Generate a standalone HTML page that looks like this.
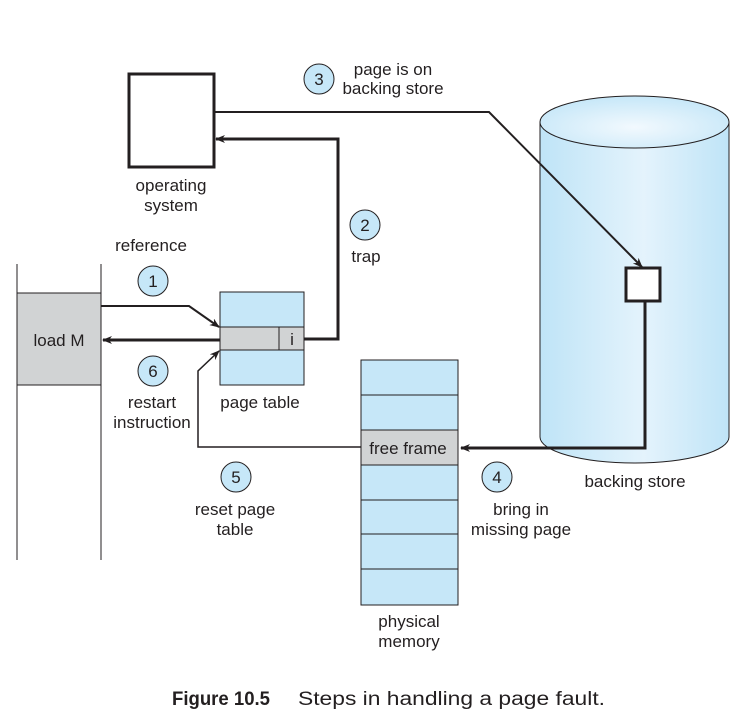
<!DOCTYPE html>
<html><head><meta charset="utf-8"><style>
html,body{margin:0;padding:0;background:#fff;}
svg{display:block;}
text{font-family:"Liberation Sans",sans-serif;font-size:17px;fill:#231f20;}
</style></head><body>
<svg width="742" height="728" viewBox="0 0 742 728" xmlns="http://www.w3.org/2000/svg">
<defs>
<linearGradient id="cyl" x1="0" x2="1" y1="0" y2="0">
<stop offset="0" stop-color="#bfe4f7"/><stop offset="0.55" stop-color="#e4f3fc"/><stop offset="1" stop-color="#bfe4f7"/>
</linearGradient>
<radialGradient id="top" cx="0.5" cy="0.6" r="0.6">
<stop offset="0" stop-color="#f2f9fe"/><stop offset="1" stop-color="#c6e7f8"/>
</radialGradient>
<marker id="ah" markerWidth="10" markerHeight="8" refX="9" refY="4" orient="auto" markerUnits="userSpaceOnUse">
<path d="M0,0 L10,4 L0,8 L3,4 z" fill="#231f20"/>
</marker>
</defs>

<path d="M540,122 L540,437 A94.5,26 0 0 0 729,437 L729,122 Z" fill="url(#cyl)" stroke="#231f20" stroke-width="1"/>
<ellipse cx="634.5" cy="122" rx="94.5" ry="26" fill="url(#top)" stroke="#231f20" stroke-width="1"/>
<rect x="626" y="268" width="34" height="33" fill="#fff" stroke="#231f20" stroke-width="3"/>

<line x1="17" y1="264" x2="17" y2="560" stroke="#231f20" stroke-width="1"/>
<line x1="101" y1="264" x2="101" y2="560" stroke="#231f20" stroke-width="1"/>
<rect x="17" y="293" width="84" height="92" fill="#d1d3d4" stroke="#231f20" stroke-width="1"/>
<text x="59" y="346" text-anchor="middle">load M</text>

<rect x="129" y="74" width="85" height="93" fill="#fff" stroke="#231f20" stroke-width="3"/>
<text x="171" y="191" text-anchor="middle">operating</text>
<text x="171" y="211" text-anchor="middle">system</text>

<rect x="220" y="292" width="84" height="93" fill="#c6e7f8" stroke="#231f20" stroke-width="1"/>
<rect x="220" y="327" width="84" height="23" fill="#d1d3d4" stroke="#231f20" stroke-width="1"/>
<line x1="279" y1="327" x2="279" y2="350" stroke="#231f20" stroke-width="1"/>
<text x="292" y="345" text-anchor="middle">i</text>
<text x="260" y="408" text-anchor="middle">page table</text>

<rect x="361" y="360" width="97" height="245" fill="#c6e7f8" stroke="#231f20" stroke-width="1"/>
<rect x="361" y="430" width="97" height="35" fill="#d1d3d4" stroke="#231f20" stroke-width="1"/>
<line x1="361" y1="395" x2="458" y2="395" stroke="#231f20"/>
<line x1="361" y1="500" x2="458" y2="500" stroke="#231f20"/>
<line x1="361" y1="534" x2="458" y2="534" stroke="#231f20"/>
<line x1="361" y1="569" x2="458" y2="569" stroke="#231f20"/>
<text x="408" y="454" text-anchor="middle">free frame</text>
<text x="409" y="627" text-anchor="middle">physical</text>
<text x="409" y="647" text-anchor="middle">memory</text>

<polyline points="101,306 189,306 219,327" fill="none" stroke="#231f20" stroke-width="2" marker-end="url(#ah)"/>
<line x1="220" y1="340" x2="103" y2="340" stroke="#231f20" stroke-width="3" marker-end="url(#ah)"/>
<polyline points="304,339 338,339 338,139 216,139" fill="none" stroke="#231f20" stroke-width="3" marker-end="url(#ah)"/>
<polyline points="214,112 489,112 642,267" fill="none" stroke="#231f20" stroke-width="2" marker-end="url(#ah)"/>
<polyline points="645,301 645,448 461,448" fill="none" stroke="#231f20" stroke-width="3" marker-end="url(#ah)"/>
<polyline points="361,447 198,447 198,371 219,351" fill="none" stroke="#231f20" stroke-width="1.5" marker-end="url(#ah)"/>

<g fill="#c6e7f8" stroke="#231f20" stroke-width="1">
<circle cx="319" cy="79" r="15"/><circle cx="365" cy="225" r="15"/>
<circle cx="153" cy="281" r="15"/><circle cx="153" cy="371" r="15"/>
<circle cx="236" cy="477" r="15"/><circle cx="497" cy="477" r="15"/>
</g>
<g text-anchor="middle">
<text x="319" y="85">3</text><text x="365" y="231">2</text>
<text x="153" y="287">1</text><text x="153" y="377">6</text>
<text x="236" y="483">5</text><text x="497" y="483">4</text>
</g>

<text x="393" y="75" text-anchor="middle">page is on</text>
<text x="393" y="94" text-anchor="middle">backing store</text>
<text x="366" y="262" text-anchor="middle">trap</text>
<text x="151" y="251" text-anchor="middle">reference</text>
<text x="152" y="408" text-anchor="middle">restart</text>
<text x="152" y="428" text-anchor="middle">instruction</text>
<text x="235" y="515" text-anchor="middle">reset page</text>
<text x="235" y="535" text-anchor="middle">table</text>
<text x="521" y="515" text-anchor="middle">bring in</text>
<text x="521" y="535" text-anchor="middle">missing page</text>
<text x="635" y="487" text-anchor="middle">backing store</text>

<text x="172" y="705" style="font-size:19px;font-weight:bold" textLength="98" lengthAdjust="spacingAndGlyphs">Figure 10.5</text>
<text x="298" y="705" style="font-size:19px" textLength="307" lengthAdjust="spacingAndGlyphs">Steps in handling a page fault.</text>
</svg>
</body></html>
